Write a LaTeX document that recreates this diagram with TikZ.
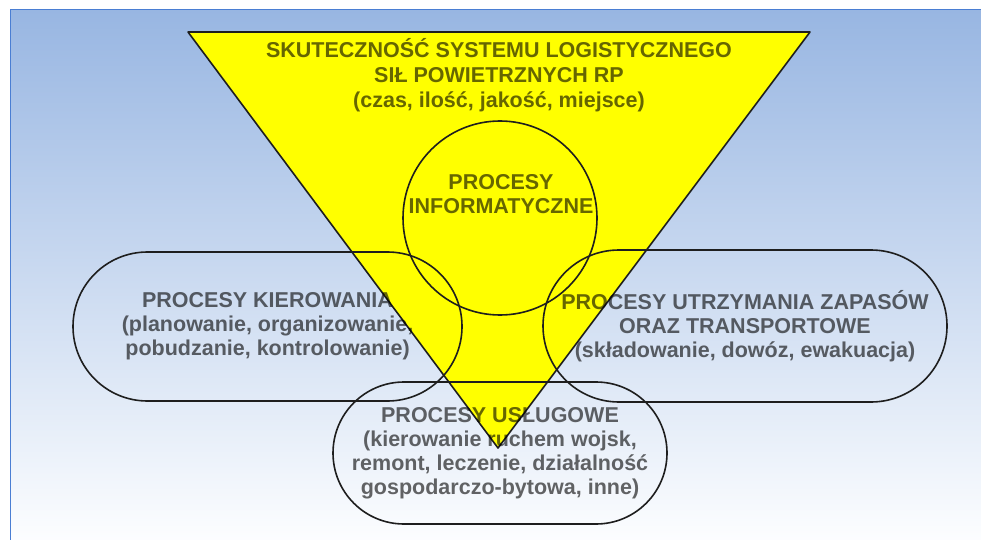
\documentclass[tikz,border=0pt]{standalone}
\usepackage{fontspec}
\setmainfont{Liberation Sans}
\usepackage{tikz}
\usetikzlibrary{positioning, shapes.misc, calc}
\definecolor{cBgTop}{HTML}{98B6E2}
\definecolor{cBgBot}{HTML}{FDFEFF}
\definecolor{cFrame}{HTML}{4A7ED3}
\definecolor{cTri}{HTML}{FFFF00}
\definecolor{cLine}{HTML}{1E1E1E}
\tikzset{
  tri/.style={fill=cTri, draw=cLine, line width=1.6pt, line join=round},
  ring/.style={circle, draw=cLine, line width=1.6pt, minimum size=194pt, inner sep=0pt},
  stadium/.style={
    rounded rectangle, draw=cLine, line width=1.6pt, inner sep=0pt,
    font=\fontsize{21.5}{24}\selectfont\bfseries, align=center,
    text=black, text opacity=0.6
  },
  heading/.style={
    font=\fontsize{21.5}{25}\selectfont\bfseries, align=center,
    text=black, text opacity=0.6, inner sep=0pt, anchor=base
  },
}

\begin{document}
\begin{tikzpicture}[x=1pt, y=1pt]

  \useasboundingbox (0,0) rectangle (981,539);
  \shade[top color=cBgTop, bottom color=cBgBot] (10,-5) rectangle (990,529);
  \draw[cFrame, line width=1pt] (10,-5) -- (10,529) -- (990,529);

  \coordinate (tl)  at (188,507);
  \coordinate (tr)  at (810,507);
  \coordinate (tip) at (498,91);
  \draw[tri] (tl) -- (tr) -- (tip) -- cycle;

  \node[ring] (info) at (500,321) {};

  \node[stadium, minimum width=389pt, minimum height=149pt] (kier) at (267.5,212.5)
    {PROCESY KIEROWANIA\\(planowanie, organizowanie,\\pobudzanie, kontrolowanie)};

  \node[stadium, minimum width=404pt, minimum height=152pt] (zap) at (745,213)
    {PROCESY UTRZYMANIA ZAPASÓW\\ORAZ TRANSPORTOWE\\(składowanie, dowóz, ewakuacja)};

  \node[stadium, minimum width=334pt, minimum height=142pt] (usl) at (500,86)
    {PROCESY USŁUGOWE\\(kierowanie ruchem wojsk,\\remont, leczenie, działalność\\gospodarczo-bytowa, inne)};

  % base sits on the last line
  \node[heading] (skut) at (499,431)
    {SKUTECZNOŚĆ SYSTEMU LOGISTYCZNEGO\\SIŁ POWIETRZNYCH RP\\(czas, ilość, jakość, miejsce)};

  \node[heading, font=\fontsize{21.5}{24}\selectfont\bfseries] (infotxt) at (501,326)
    {PROCESY\\INFORMATYCZNE};

\end{tikzpicture}
\end{document}
